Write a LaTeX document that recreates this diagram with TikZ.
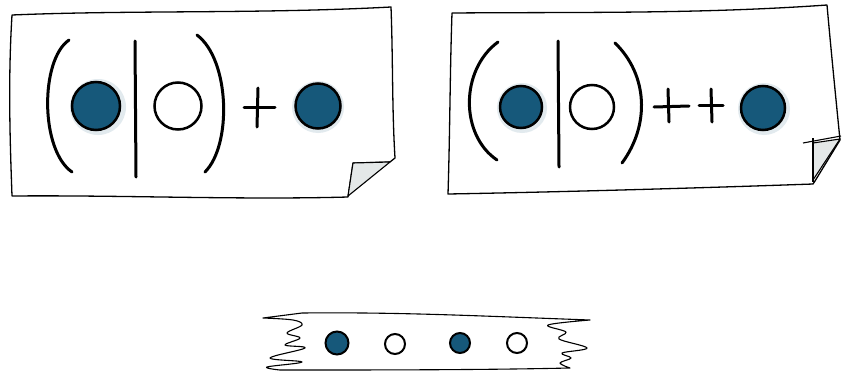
\documentclass[tikz,border=0pt]{standalone}
\usetikzlibrary{calc}
\definecolor{ballblue}{RGB}{22,88,122}
\definecolor{foldgray}{RGB}{228,232,232}
\tikzset{
  card/.style={draw=black,line width=1.3pt,line join=round,fill=white},
  stroke/.style={draw=black,line width=3pt,line cap=round},
  fullball/.style={circle,draw=black,line width=2.5pt,fill=ballblue,inner sep=0pt},
  emptyball/.style={circle,draw=black,line width=2.5pt,fill=white,inner sep=0pt},
  halo/.style={circle,fill=ballblue!35,opacity=0.35,inner sep=0pt,draw=none},
  fold/.style={draw=black,line width=1.1pt,fill=foldgray,line join=round},
  tape/.style={draw=black,line width=1.1pt,fill=white,line join=round}
}
\begin{document}
\begin{tikzpicture}[x=1pt,y=-1pt]
\useasboundingbox (0,0) rectangle (842,372);
% ---------- left card ----------
\draw[card] (12,15) .. controls (130,10) and (260,14) .. (391,7)
  .. controls (393,60) and (392,110) .. (395,158)
  -- (390,162) -- (353,163) -- (348,197)
  .. controls (240,200) and (120,195) .. (12,196)
  .. controls (10,140) and (8,80) .. (12,15) -- cycle;
\draw[fold] (390,162) -- (353,163) -- (348,196) -- cycle;
% contents
\draw[stroke] (69,40) .. controls (40,60) and (40,150) .. (72,172);
\draw[stroke] (135,41) -- (136,177);
\draw[stroke] (197,35) .. controls (230,60) and (232,145) .. (205,172);
\draw[stroke] (244,107) -- (275,107);
\draw[stroke] (258,88) -- (257,127);
\node[halo,minimum size=56pt] (lh1) at (98,107) {};
\node[fullball,minimum size=48pt] (lb1) at (96,106) {};
\node[emptyball,minimum size=47pt] (lo1) at (178,106) {};
\node[halo,minimum size=52pt] (lh2) at (318,107) {};
\node[fullball,minimum size=45pt] (lb2) at (318,106) {};
% ---------- right card ----------
\draw[card] (452,13) .. controls (580,12) and (700,14) .. (827,5)
  .. controls (831,50) and (836,100) .. (840,140)
  -- (815,181) -- (813,184)
  .. controls (700,188) and (560,192) .. (448,194)
  .. controls (450,130) and (450,70) .. (452,13) -- cycle;
\draw[fold] (840,139) -- (813,143) -- (813,180) -- cycle;
\draw[line width=1.1pt] (803,143) -- (841,136);
\draw[line width=1.1pt] (813,138) -- (813,182);
% contents
\draw[stroke] (498,42) .. controls (460,70) and (460,135) .. (497,160);
\draw[stroke] (558,41) -- (559,167);
\draw[stroke] (615,43) .. controls (648,75) and (650,125) .. (622,163);
\draw[stroke] (654,107) -- (689,106);
\draw[stroke] (668,89) -- (669,122);
\draw[stroke] (699,105) -- (723,105);
\draw[stroke] (711,89) -- (712,122);
\node[halo,minimum size=50pt] (rh1) at (522,108) {};
\node[fullball,minimum size=42pt] (rb1) at (521,107) {};
\node[emptyball,minimum size=44pt] (ro1) at (592,107) {};
\node[halo,minimum size=52pt] (rh2) at (764,109) {};
\node[fullball,minimum size=44pt] (rb2) at (763,108) {};
% ---------- tape ----------
\draw[tape] (302,313) .. controls (400,312) and (480,316) .. (590,320)
  -- plot[smooth,tension=0.6] coordinates {(590,320) (548,325) (566,332) (559,339) (587,348) (562,353) (571,358) (560,363) (570,368)}
  .. controls (480,370) and (380,370) .. (280,370)
  -- plot[smooth,tension=0.6] coordinates {(280,370) (267,367) (302,362) (270,358) (305,348) (285,345) (300,338) (287,333) (302,325) (293,320) (263,318)}
  -- cycle;
\node[fullball,minimum size=23pt,line width=2pt] (t1) at (337,343) {};
\node[emptyball,minimum size=20pt,line width=2pt] (t2) at (395,344) {};
\node[fullball,minimum size=20pt,line width=2pt] (t3) at (460,343) {};
\node[emptyball,minimum size=20pt,line width=2pt] (t4) at (517,343) {};
\end{tikzpicture}
\end{document}
